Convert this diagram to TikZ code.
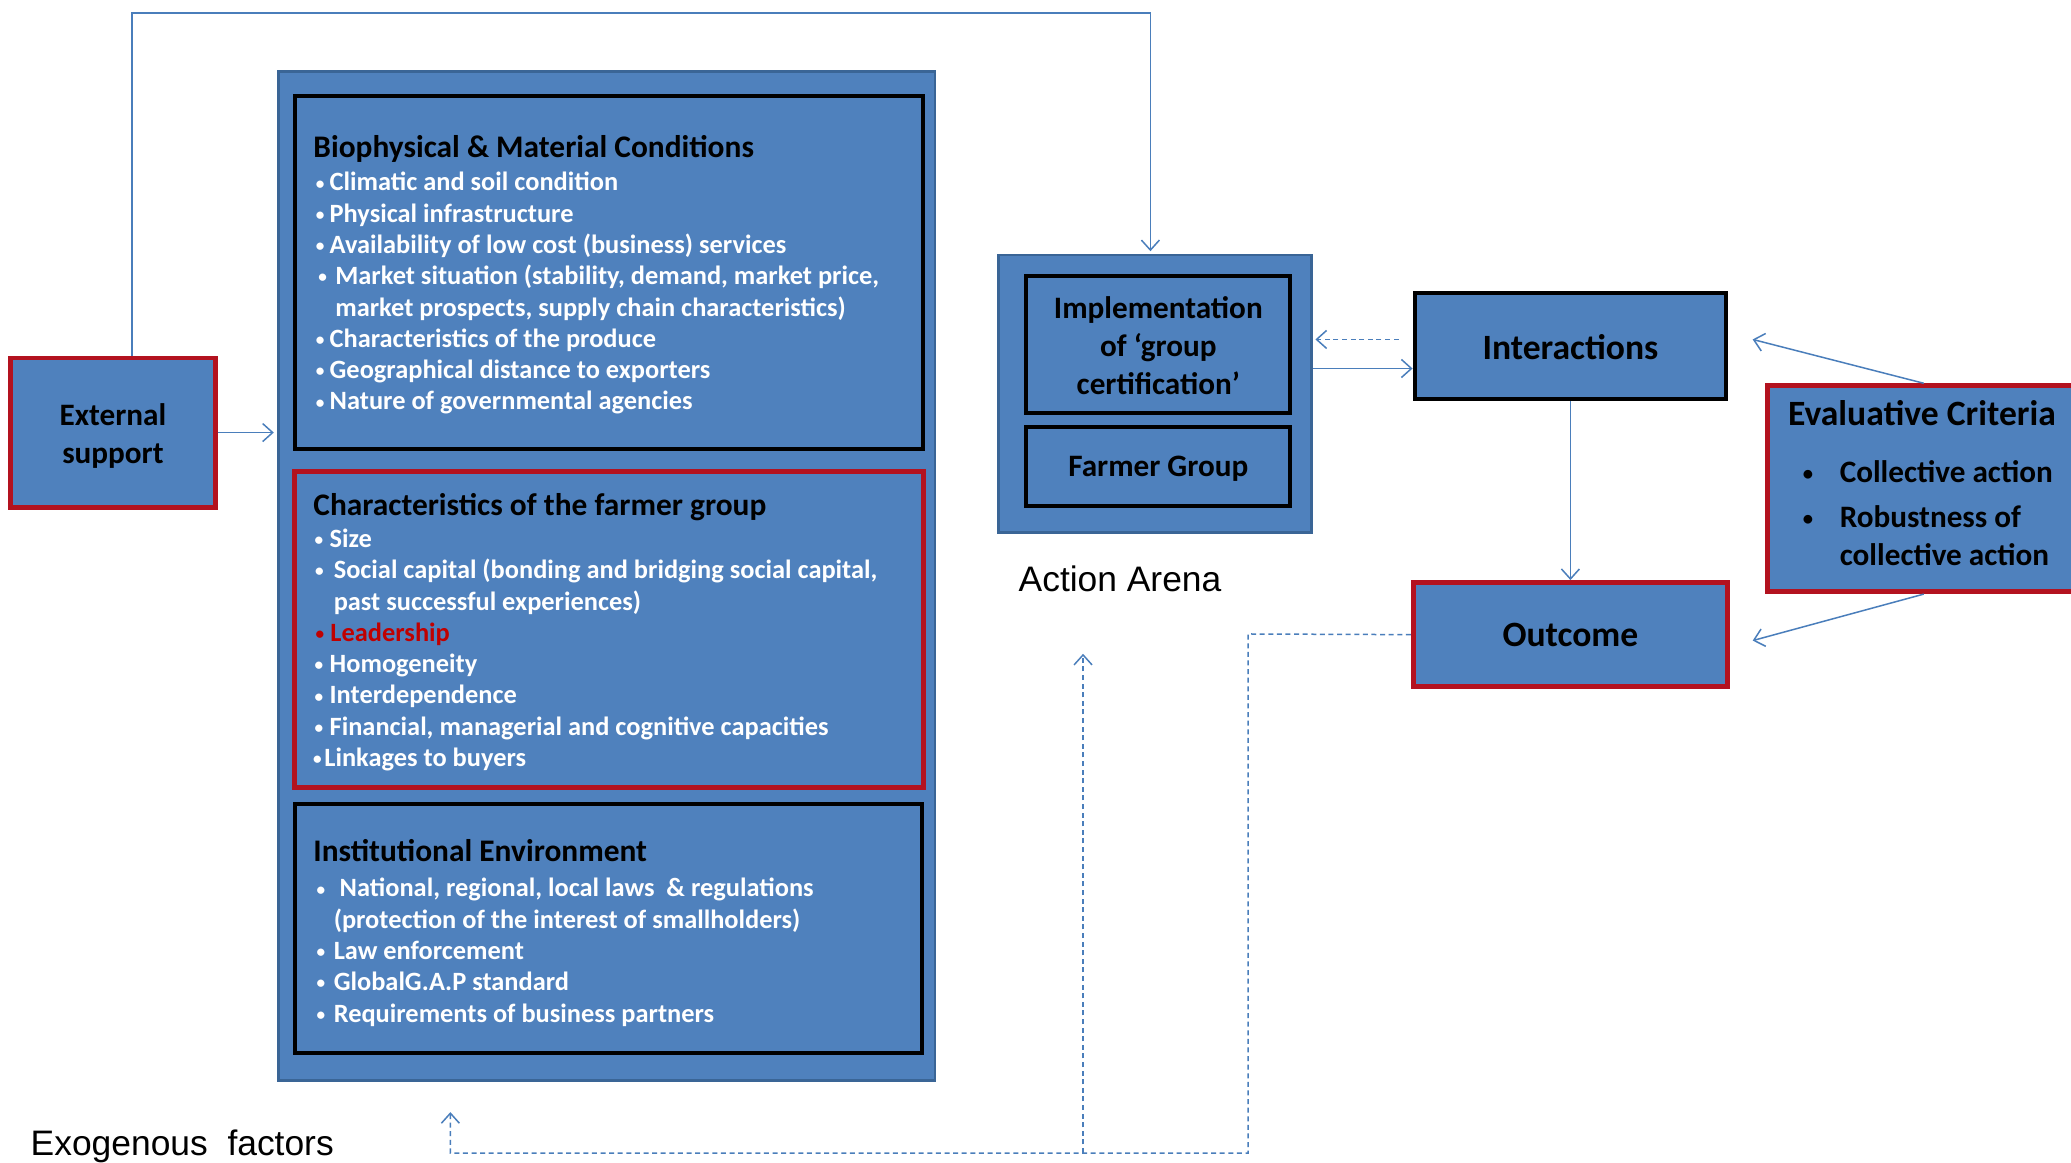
\documentclass[tikz,border=0pt]{standalone}
\usepackage{fontspec}
\setmainfont{Carlito}
\newfontfamily\arialfont{Liberation Sans}
\usetikzlibrary{arrows.meta,fit}
\definecolor{boxblue}{HTML}{4F81BD}
\definecolor{boxedge}{HTML}{3A6596}
\definecolor{redge}{HTML}{B3121F}
\definecolor{linkblue}{HTML}{4A7EBB}
\definecolor{leadred}{HTML}{C00000}
\newcommand{\bul}[1]{\llap{\raisebox{0.9pt}{\fontsize{8.6}{9}\selectfont •}\hspace{#1}}}
\newcommand{\bigbul}[1]{\llap{\raisebox{1.2pt}{\fontsize{10.3}{11}\selectfont •}\hspace{#1}}}
\begin{document}
\begin{tikzpicture}[x=0.6604pt,y=-0.6604pt,
  outerbox/.style={draw=boxedge,line width=1.3pt,fill=boxblue,inner sep=0pt},
  blackbox/.style={draw=black,line width=2pt,fill=boxblue,inner sep=0pt},
  redbox/.style={draw=redge,line width=2.4pt,fill=boxblue,inner sep=0pt},
  lbl/.style={inner sep=0pt,font=\fontsize{15.6}{19}\selectfont\bfseries,align=center},
  biglbl/.style={inner sep=0pt,font=\fontsize{17.8}{21}\selectfont\bfseries,align=center},
  bl/.style={anchor=base west,inner sep=0pt,font=\fontsize{13.2}{15}\selectfont\bfseries,text=white},
  hd/.style={anchor=base west,inner sep=0pt,font=\fontsize{15.7}{18}\selectfont\bfseries},
  ev/.style={anchor=base west,inner sep=0pt,font=\fontsize{15.6}{19}\selectfont\bfseries},
  plain/.style={inner sep=0pt,font=\arialfont\fontsize{17.7}{20}\selectfont},
  link/.style={draw=linkblue,line width=0.75pt,-{Straight Barb[length=5pt,width=9pt,line width=0.75pt]}},
  dlink/.style={link,dash pattern=on 2.5pt off 1.8pt}
]
\path[use as bounding box,fill=white] (0,0) rectangle (1568,880);

% exogenous block
\node[outerbox,fit={(211,54) (708,818)}] (big) {};
\node[blackbox,fit={(223,73) (699,340)}] (bio) {};
\node[redbox,fit={(223,357) (699,596)}] (chr) {};
\node[blackbox,fit={(223,609) (698,797)}] (inst) {};

% biophysical
\node[hd] (bioh) at (237,119.5) {Biophysical \& Material Conditions};
\node[bl] (b1) at (249.3,144.5) {\bul{2.6pt}Climatic and soil condition};
\node[bl] (b2) at (249.3,168.2) {\bul{2.6pt}Physical infrastructure};
\node[bl] (b3) at (249.3,191.9) {\bul{2.6pt}Availability of low cost (business) services};
\node[bl] (b4) at (253.6,215.6) {\bul{4.2pt}Market situation (stability, demand, market price,};
\node[bl] (b5) at (253.6,239.3) {market prospects, supply chain characteristics)};
\node[bl] (b6) at (249.3,263) {\bul{2.6pt}Characteristics of the produce};
\node[bl] (b7) at (249.3,286.7) {\bul{2.6pt}Geographical distance to exporters};
\node[bl] (b8) at (249.3,310.4) {\bul{2.6pt}Nature of governmental agencies};

% characteristics
\node[hd] (chrh) at (237,390) {Characteristics of the farmer group};
\node[bl] (c1) at (249.3,414.5) {\bul{3.2pt}Size};
\node[bl] (c2) at (252.4,438.2) {\bul{5pt}Social capital (bonding and bridging social capital,};
\node[bl] (c3) at (252.4,461.9) {past successful experiences)};
\node[bl,text=leadred] (c4) at (249.9,485.6) {\bul{3.2pt}Leadership};
\node[bl] (c5) at (249.3,509.3) {\bul{3.2pt}Homogeneity};
\node[bl] (c6) at (249.3,533) {\bul{3.2pt}Interdependence};
\node[bl] (c7) at (249.3,556.7) {\bul{3.2pt}Financial, managerial and cognitive capacities};
\node[bl] (c8) at (245.3,580.4) {\bul{1.3pt}Linkages to buyers};

% institutional
\node[hd] (insth) at (237,652) {Institutional Environment};
\node[bl] (i1) at (256.9,679) {\bul{7.2pt}National, regional, local laws \ \& regulations};
\node[bl] (i2) at (252.4,702.7) {(protection of the interest of smallholders)};
\node[bl] (i3) at (252.4,726.4) {\bul{4.3pt}Law enforcement};
\node[bl] (i4) at (252.4,750.1) {\bul{4.3pt}GlobalG.A.P standard};
\node[bl] (i5) at (252.4,773.8) {\bul{4.3pt}Requirements of business partners};

% external support
\node[redbox,fit={(8,271) (163,384)}] (ext) {};
\node[lbl] (extt) at ([yshift=-1.6pt]ext.center) {External\\[0.2pt]support};

% action arena
\node[outerbox,fit={(756,193) (993,403)}] (arena) {};
\node[blackbox,fit={(777,209) (977,313)}] (impl) {};
\node[lbl] (implt) at ([yshift=-0.6pt]impl.center) {Implementation\\of ‘group\\certification’};
\node[blackbox,fit={(777,323) (977,383)}] (farm) {};
\node[lbl] (farmt) at ([yshift=-1.3pt]farm.center) {Farmer Group};
\node[plain] (arenalbl) at (848,438) {Action Arena};

% right side
\node[blackbox,fit={(1071,222) (1307,302)}] (inter) {};
\node[biglbl] (intert) at ([yshift=-0.6pt]inter.center) {Interactions};
\node[redbox,fit={(1070,441) (1308,520)}] (out) {};
\node[biglbl] (outt) at (out.center) {Outcome};
\node[redbox,fit={(1338,292) (1575,448)}] (eval) {};
\node[anchor=base west,inner sep=0pt,font=\fontsize{17.8}{21}\selectfont\bfseries] (evalh) at (1353.5,322.5) {Evaluative Criteria};
\node[ev] (e1) at (1392.6,365.5) {\bigbul{13.3pt}Collective action};
\node[ev] (e2) at (1392.6,399.5) {\bigbul{13.3pt}Robustness of};
\node[ev] (e3) at (1392.6,428.5) {collective action};

\node[plain] (exo) at (138,868) {Exogenous \ factors};

% connectors
\coordinate (tl) at (100,10);
\coordinate (tr) at (871,10);
\draw[link,shorten >=1.2pt] (ext.north -| tl) -- (tl) -- (tr) -- (arena.north -| tr);
\draw[link,shorten >=1.8pt] (ext.east) -- (big.west |- ext.east);
\coordinate (yd) at (0,257);
\coordinate (ys) at (0,279);
\draw[dlink,shorten <=7pt,shorten >=1.3pt] (inter.west |- yd) -- (arena.east |- yd);
\draw[link] (arena.east |- ys) -- (inter.west |- ys);
\draw[link] (inter.south) -- (out.north);
\coordinate (ia) at (1327,257);
\coordinate (oa) at (1327,485);
\draw[link] (eval.north) -- (ia);
\draw[link] (eval.south) -- (oa);
\coordinate (d1) at (945,480);
\coordinate (d2) at (945,873);
\coordinate (d3) at (341,873);
\coordinate (d4) at (341,842);
\coordinate (d5) at (820,873);
\coordinate (d6) at (820,495);
\draw[dlink] (out.west) -- (d1) -- (d2) -- (d3) -- (d4);
\draw[dlink] (d5) -- (d6);
\end{tikzpicture}
\end{document}
